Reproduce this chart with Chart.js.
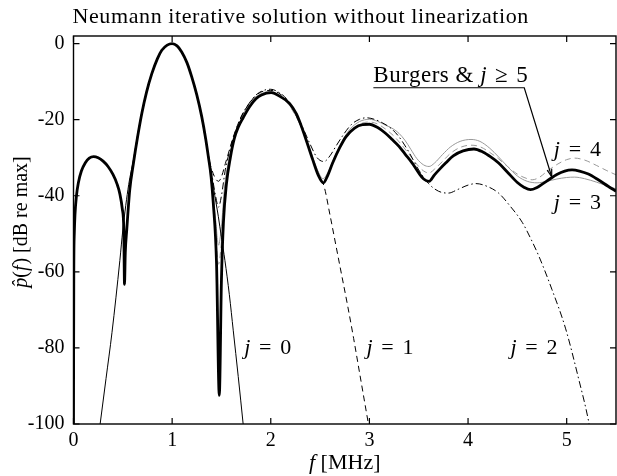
<!DOCTYPE html>
<html>
<head>
<meta charset="utf-8">
<script src="https://cdn.jsdelivr.net/npm/chart.js@4.4.0/dist/chart.umd.min.js"></script>
<style>
  html, body { margin: 0; padding: 0; background: #fff; }
  #wrap { width: 617px; height: 476px; }
</style>
</head>
<body>
<div id="wrap"><canvas id="c"></canvas></div>
<script>
// tick labels
var xTicks = [0, 1, 2, 3, 4, 5];
var yTicks = [0, -20, -40, -60, -80, -100];

// Burgers solution (same as j >= 5), [f MHz, dB]
var burgers = [
  [0,-100],[0.003,-60],[0.008,-50],[0.015,-45],[0.03,-40],[0.05,-36.5],[0.08,-33.5],[0.12,-31.3],
  [0.16,-30.1],[0.204,-29.7],[0.25,-30],[0.3,-30.9],[0.35,-32.3],[0.4,-34.4],[0.44,-36.8],
  [0.47,-39.5],[0.495,-43.5],[0.51,-49],[0.517,-63.3],
  [0.525,-55],[0.54,-48.9],[0.57,-38.5],[0.608,-31.4],[0.65,-24.5],[0.693,-18.3],[0.74,-12.8],
  [0.794,-7.9],[0.85,-4],[0.895,-1.75],[0.95,-0.4],[1,0],[1.05,-0.6],[1.097,-2.2],[1.15,-5],
  [1.198,-8.7],[1.25,-13.5],[1.3,-19.2],[1.34,-25],[1.367,-29.7],[1.395,-35],[1.417,-41.9],
  [1.45,-57.6],[1.478,-92.5],[1.5,-62],[1.52,-47],[1.55,-37],[1.59,-30],[1.63,-25],[1.67,-22],
  [1.72,-19.5],[1.785,-16.6],[1.85,-14.5],[1.906,-13.5],[2.004,-12.9],[2.1,-14],[2.19,-15.7],
  [2.26,-18.5],[2.324,-22.7],[2.38,-27],[2.425,-30.5],[2.48,-34.5],[2.533,-36.6],[2.58,-34.5],
  [2.627,-31.4],[2.7,-27.3],[2.762,-24.5],[2.85,-22.2],[2.93,-21.3],[3,-21.2],[3.08,-22],
  [3.16,-23.5],[3.234,-25.3],[3.3,-27],[3.36,-29],[3.436,-31.5],[3.5,-34],[3.55,-35.6],
  [3.605,-36.2],[3.66,-34.5],[3.72,-32.8],[3.773,-31.4],[3.85,-29.5],[3.95,-28.2],[4.06,-27.7],
  [4.15,-28.5],[4.23,-29.8],[4.31,-31.4],[4.4,-33.8],[4.5,-36.5],[4.57,-37.8],[4.633,-38.4],
  [4.7,-37.8],[4.76,-36.8],[4.818,-35.8],[4.9,-34.4],[4.98,-33.5],[5.054,-33.2],[5.13,-33.5],
  [5.22,-34.3],[5.32,-35.8],[5.42,-37.5],[5.5,-38.8]
];

// j = 0 (linear)
var j0 = [
  [0.27,-100],[0.33,-88],[0.39,-76],[0.47,-57],[0.5,-49],[0.56,-37],[0.608,-30.5],[0.65,-24],
  [0.693,-18],[0.74,-12.6],[0.794,-7.8],[0.85,-4],[0.895,-1.7],[0.95,-0.4],[1,0],[1.05,-0.6],
  [1.097,-2.2],[1.15,-5],[1.198,-8.7],[1.25,-13.5],[1.3,-19.5],[1.34,-25.5],[1.383,-31.5],
  [1.42,-38],[1.468,-45.4],[1.5,-51],[1.535,-57],[1.58,-66],[1.62,-75.5],[1.67,-87.5],[1.72,-100]
];

// j = 1..4 above 1.4 MHz (below that they sit on the Burgers curve)
var j1 = [
  [1.4,-33],[1.44,-35.5],[1.47,-36.2],[1.5,-35],[1.54,-31.5],[1.58,-28],[1.62,-24.5],[1.7,-19.2],
  [1.78,-15.8],[1.86,-13.4],[1.94,-12.4],[2,-12.3],[2.08,-13],[2.16,-14.8],[2.24,-18],[2.32,-22.5],
  [2.4,-28.5],[2.47,-34],[2.54,-37.5],[2.6,-45],[2.66,-53],[2.72,-61],[2.78,-69],[2.84,-77.5],
  [2.9,-86.5],[2.95,-94],[3,-101.5]
];
var j2 = [
  [1.4,-34],[1.44,-40],[1.47,-43],[1.5,-40],[1.54,-33],[1.58,-28.5],[1.62,-24.8],[1.7,-19.3],
  [1.78,-15.7],[1.86,-13.3],[1.94,-12.2],[2,-12],[2.08,-12.8],[2.16,-14.5],[2.24,-17.6],[2.32,-21.8],
  [2.4,-26.5],[2.47,-30],[2.54,-31],[2.6,-29.5],[2.66,-27],[2.74,-23.8],[2.82,-21.2],[2.9,-19.9],
  [2.97,-19.5],[3.05,-19.9],[3.13,-20.8],[3.22,-22.3],[3.3,-24.5],[3.4,-28.5],[3.5,-33.2],
  [3.6,-36.8],[3.7,-38.8],[3.8,-39.3],[3.9,-38.3],[4,-37.2],[4.08,-36.8],[4.2,-37.6],[4.31,-39.3],
  [4.42,-42.5],[4.55,-47],[4.64,-51.5],[4.72,-56],[4.85,-64.6],[4.99,-75],[5.12,-88],[5.22,-99],
  [5.24,-102]
];
var j3 = [
  [1.4,-36],[1.44,-46],[1.47,-53],[1.5,-48],[1.53,-38],[1.57,-31],[1.62,-25.5],[1.7,-19.8],
  [1.78,-16],[1.86,-13.8],[1.94,-12.8],[2,-12.6],[2.08,-13.4],[2.16,-15.2],[2.24,-18.3],[2.32,-22.6],
  [2.4,-28],[2.47,-33],[2.53,-35.5],[2.58,-33.8],[2.64,-30.2],[2.72,-25.8],[2.8,-22.6],[2.9,-20.5],
  [3,-19.9],[3.08,-20.4],[3.16,-21.4],[3.24,-22.4],[3.3,-23.6],[3.36,-25.4],[3.42,-27.8],
  [3.48,-30.2],[3.55,-31.9],[3.605,-32.3],[3.66,-31.4],[3.74,-29.2],[3.82,-27.2],[3.92,-25.7],
  [4.03,-25.2],[4.12,-25.7],[4.22,-27.5],[4.31,-29.8],[4.4,-32.3],[4.5,-34.8],[4.6,-36.2],
  [4.7,-36.6],[4.8,-36.2],[4.9,-35.6],[5,-35.2],[5.08,-35.1],[5.18,-35.5],[5.3,-36.4],[5.4,-37.3],
  [5.5,-38.2]
];
var j4 = [
  [1.4,-37],[1.44,-50],[1.47,-58],[1.5,-52],[1.53,-40],[1.57,-32],[1.62,-26],[1.7,-20],
  [1.78,-16.3],[1.86,-14.1],[1.94,-13.1],[2,-12.9],[2.08,-13.7],[2.16,-15.4],[2.24,-18.4],[2.32,-22.7],
  [2.4,-28.3],[2.47,-33.5],[2.53,-36],[2.58,-34.3],[2.64,-30.6],[2.72,-26.3],[2.8,-23.2],[2.9,-21.2],
  [3,-20.6],[3.08,-21.1],[3.16,-22.4],[3.24,-24.1],[3.32,-26.4],[3.4,-29],[3.48,-31.7],[3.55,-33.5],
  [3.605,-34],[3.66,-33],[3.74,-31],[3.82,-28.9],[3.92,-27.3],[4.03,-26.7],[4.12,-27.1],[4.22,-28.6],
  [4.31,-30.3],[4.4,-32.3],[4.5,-34.3],[4.6,-35.5],[4.65,-35.8],[4.72,-35.2],[4.8,-33.6],[4.9,-31.8],
  [5,-30.5],[5.08,-30.1],[5.18,-30.6],[5.3,-32],[5.4,-33.3],[5.5,-34.5]
];

var serif = "'Liberation Serif', 'Times New Roman', serif";

function pts(arr) {
  return arr.map(function(p) { return {x: p[0], y: p[1]}; });
}
// iterates share the Burgers curve below 1.4 MHz
function withLow(arr) {
  return pts(burgers.filter(function(p) { return p[0] < 1.39; }).concat(arr));
}

function line(w, color, dash) {
  return {
    borderColor: color, borderWidth: w, borderDash: dash || [],
    pointRadius: 0, fill: false, cubicInterpolationMode: 'monotone'
  };
}

var datasets = [
  Object.assign({label: 'Burgers', data: pts(burgers)}, line(2.8, '#000')),
  Object.assign({label: 'j=0', data: pts(j0)}, line(1, '#000')),
  Object.assign({label: 'j=1', data: withLow(j1)}, line(1, '#000', [6, 4])),
  Object.assign({label: 'j=2', data: withLow(j2)}, line(1, '#000', [7, 3, 1.5, 3])),
  Object.assign({label: 'j=3', data: withLow(j3)}, line(1, '#999')),
  Object.assign({label: 'j=4', data: withLow(j4)}, line(1, '#999', [6, 4]))
];

// mixed roman/italic text, parts = [[text, italic, gapAfter(em)], ...]
function rich(ctx, parts, x, y, size, align) {
  var w = 0;
  parts.forEach(function(p) {
    ctx.font = (p[1] ? 'italic ' : '') + size + 'px ' + serif;
    w += ctx.measureText(p[0]).width + (p[2] || 0) * size;
  });
  var cx = x;
  if (align === 'center') cx = x - w / 2;
  parts.forEach(function(p) {
    ctx.font = (p[1] ? 'italic ' : '') + size + 'px ' + serif;
    ctx.fillText(p[0], cx, y);
    cx += ctx.measureText(p[0]).width + (p[2] || 0) * size;
  });
  return w;
}

var frame = {
  id: 'frame',
  afterDraw: function(chart) {
    var ctx = chart.ctx, a = chart.chartArea;
    var xs = chart.scales.x, ys = chart.scales.y;
    ctx.save();
    ctx.strokeStyle = '#000';
    ctx.fillStyle = '#000';
    ctx.lineWidth = 1.4;
    ctx.strokeRect(a.left, a.top, a.right - a.left, a.bottom - a.top);
    ctx.lineWidth = 1.2;
    ctx.beginPath();
    xTicks.forEach(function(v) {
      var px = xs.getPixelForValue(v);
      ctx.moveTo(px, a.bottom); ctx.lineTo(px, a.bottom - 6);
      ctx.moveTo(px, a.top); ctx.lineTo(px, a.top + 6);
    });
    yTicks.forEach(function(v) {
      var py = ys.getPixelForValue(v);
      ctx.moveTo(a.left, py); ctx.lineTo(a.left + 6, py);
      ctx.moveTo(a.right, py); ctx.lineTo(a.right - 6, py);
    });
    ctx.stroke();

    ctx.textBaseline = 'alphabetic';
    // title
    ctx.letterSpacing = '0.6px';
    rich(ctx, [['Neumann iterative solution without linearization', false]], a.left - 1, 23, 22);
    ctx.letterSpacing = '0px';
    // axis titles
    rich(ctx, [['f', true, 0.25], ['[MHz]', false]], (a.left + a.right) / 2, 469, 22, 'center');
    ctx.save();
    ctx.translate(27, (a.top + a.bottom) / 2 - 8);
    ctx.rotate(-Math.PI / 2);
    rich(ctx, [['p\u0302', true], ['(', false], ['f', true, 0.05], [') [dB re max]', false]], 0, 0, 20, 'center');
    ctx.restore();

    // curve labels
    var X = function(v) { return xs.getPixelForValue(v); };
    var Y = function(v) { return ys.getPixelForValue(v); };
    var jl = function(n, f, db) {
      rich(ctx, [['j', true, 0.4], ['=', false, 0.4], [String(n), false]], X(f), Y(db), 22);
    };
    jl(0, 1.73, -81.5);
    jl(1, 2.97, -81.5);
    jl(2, 4.43, -81.5);
    jl(4, 4.87, -29.5);
    jl(3, 4.87, -43.5);

    ctx.letterSpacing = '0.5px';
    rich(ctx, [['Burgers & ', false], ['j', true, 0.35], ['\u2265', false, 0.35], ['5', false]], X(3.04), Y(-10), 23);
    ctx.letterSpacing = '0px';
    ctx.lineWidth = 1.2;
    var x0 = X(3.04), x1 = X(4.57), yl = Y(-11.6);
    var tx = X(4.848), ty = Y(-35);
    ctx.beginPath();
    ctx.moveTo(x0, yl); ctx.lineTo(x1, yl); ctx.lineTo(tx, ty);
    ctx.stroke();
    var ang = Math.atan2(ty - yl, tx - x1);
    ctx.beginPath();
    ctx.moveTo(tx, ty);
    ctx.lineTo(tx - 8 * Math.cos(ang - 0.3), ty - 8 * Math.sin(ang - 0.3));
    ctx.moveTo(tx, ty);
    ctx.lineTo(tx - 8 * Math.cos(ang + 0.3), ty - 8 * Math.sin(ang + 0.3));
    ctx.stroke();
    ctx.restore();
  }
};

new Chart(document.getElementById('c'), {
  type: 'line',
  data: { datasets: datasets },
  options: {
    responsive: true,
    maintainAspectRatio: false,
    animation: false,
    layout: { padding: { top: 36, right: 1, left: 0, bottom: 0 } },
    plugins: { legend: { display: false }, tooltip: { enabled: false } },
    scales: {
      x: {
        type: 'linear', min: 0, max: 5.5,
        grid: { display: false, drawTicks: false },
        border: { display: false },
        afterBuildTicks: function(s) { s.ticks = xTicks.map(function(v) { return {value: v}; }); },
        afterFit: function(s) { s.height = 52; },
        ticks: { color: '#000', padding: 5, font: { family: serif, size: 20 },
                 maxRotation: 0, callback: function(v) { return String(v); } }
      },
      y: {
        type: 'linear', min: -100, max: 2,
        grid: { display: false, drawTicks: false },
        border: { display: false },
        afterBuildTicks: function(s) { s.ticks = yTicks.map(function(v) { return {value: v}; }); },
        afterFit: function(s) { s.width = 73.5; },
        ticks: { color: '#000', padding: 9, font: { family: serif, size: 20 },
                 callback: function(v) { return String(v); } }
      }
    }
  },
  plugins: [frame]
});
</script>
</body>
</html>
